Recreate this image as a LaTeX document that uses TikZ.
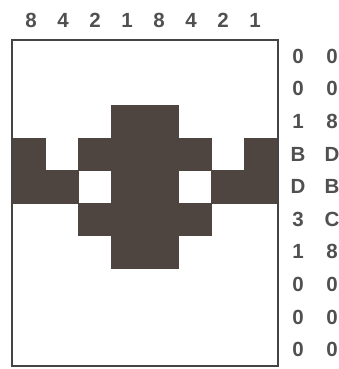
\documentclass[tikz,border=0pt]{standalone}
\usepackage{fontspec}
\setmainfont{Liberation Sans}
\usepackage{xcolor}
\definecolor{Ink}{HTML}{4E4540}
\definecolor{Txt}{HTML}{505050}

\begin{document}
\begin{tikzpicture}[x=1pt,y=1pt,
    pixel/.style={fill=Ink,draw=Ink,line width=0.6pt},
    frame/.style={draw=Txt!85!black,line width=2pt},
    digit/.style={text=Txt,font=\fontsize{20.5}{20.5}\selectfont\bfseries,inner sep=0pt,anchor=center}
  ]
    \useasboundingbox (-12,40) rectangle (327,-329);
    \def\cw{33.25}
    \def\rh{32.6}
    % filled cells of the character
    \foreach \r/\cols in {2/{3,4},3/{0,2,3,4,5,7},4/{0,1,3,4,6,7},5/{2,3,4,5},6/{3,4}}
      \foreach \c in \cols
        \fill[pixel] (\c*\cw,-\r*\rh) rectangle ++(\cw,-\rh);
    \draw[frame] (0,0) rectangle (8*\cw,-10*\rh);
    % bit weights on top
    \foreach \c/\w in {0/8,1/4,2/2,3/1,4/8,5/4,6/2,7/1}
      \node[digit] (hdr\c) at (19+32*\c,20) {\w};
    % hex codes of the rows
    \foreach \r/\hi/\lo in {0/0/0,1/0/0,2/1/8,3/B/D,4/D/B,5/3/C,6/1/8,7/0/0,8/0/0,9/0/0}{
      \node[digit] (hi\r) at (286,-\r*\rh-0.5*\rh) {\hi};
      \node[digit] (lo\r) at (320,-\r*\rh-0.5*\rh) {\lo};
    }
  \end{tikzpicture}
\end{document}
